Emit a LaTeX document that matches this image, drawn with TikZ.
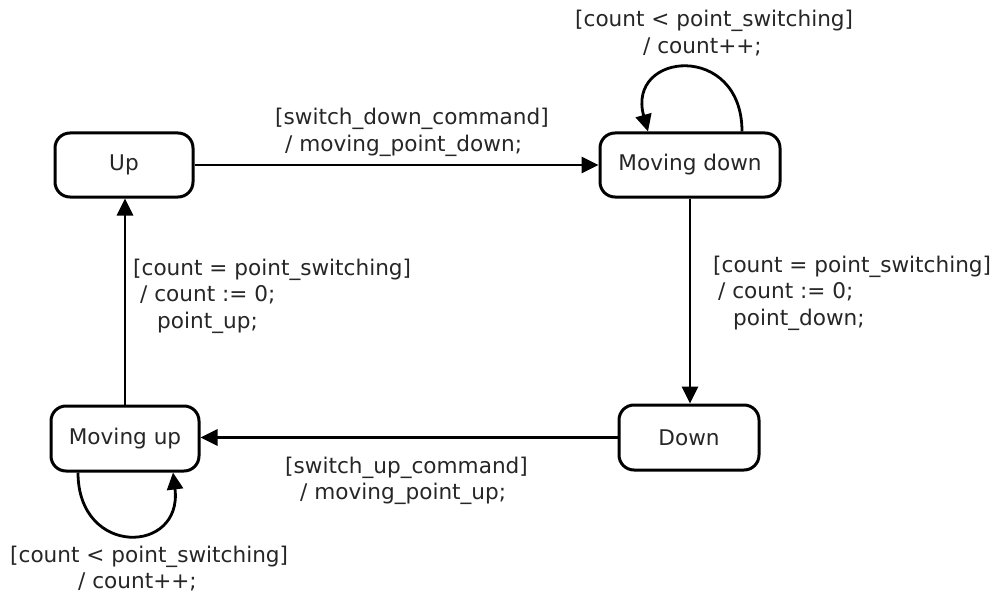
\documentclass[tikz,border=0pt]{standalone}
\usepackage{fontspec}
\setmainfont{DejaVu Sans}
\usetikzlibrary{arrows.meta}
\begin{document}
\begin{tikzpicture}[x=1pt,y=-1pt,
  state/.style={draw, line width=3pt, rounded corners=15pt, inner sep=0pt, align=center},
  arr/.style={line width=2.8pt, -{Triangle[length=17pt,width=16pt]}},
  lbl/.style={inner sep=0pt, anchor=base west},
  every node/.append style={font=\fontsize{21.6}{26.5}\selectfont, text=black!85}]
\useasboundingbox (0,0) rectangle (1000,596);
\fill[white] (0,0) rectangle (1000,596);
\node[state, minimum width=138pt, minimum height=64pt] (up) at (124,165) {Up};
\node[state, minimum width=180pt, minimum height=64pt] (md) at (690,165) {Moving down};
\node[state, minimum width=148pt, minimum height=65pt] (mu) at (125,438.5) {Moving up};
\node[state, minimum width=140pt, minimum height=65pt] (dn) at (689,437.5) {Down};

\draw[arr] (up.east) -- (md.west);
\draw[arr] (md.south) -- (md.south |- dn.north);
\draw[arr] (dn.west) -- (dn.west -| mu.east);
\draw[arr] (mu.north) -- (mu.north |- up.south);
\draw[arr] ([xshift=52pt]md.north) .. controls +(0,-90) and +(-22,-80) .. ([xshift=-42pt]md.north);
\draw[arr] ([xshift=-47pt]mu.south) .. controls +(0,85) and +(10,82) .. ([xshift=48pt]mu.south);

\node[lbl] (l1) at (575,27) {\begin{tabular}[t]{@{}l@{}}[count < point\_switching]\\\hspace*{68pt}/ count++;\end{tabular}};
\node[lbl] (l2) at (275,125) {\begin{tabular}[t]{@{}l@{}}[switch\_down\_command]\\\hspace*{10pt}/ moving\_point\_down;\end{tabular}};
\node[lbl] (l3) at (713,272) {\begin{tabular}[t]{@{}l@{}}[count = point\_switching]\\\hspace*{5pt}/ count := 0;\\\hspace*{20pt}point\_down;\end{tabular}};
\node[lbl] (l4) at (133,275) {\begin{tabular}[t]{@{}l@{}}[count = point\_switching]\\\hspace*{7pt}/ count := 0;\\\hspace*{24pt}point\_up;\end{tabular}};
\node[lbl] (l5) at (285,473) {\begin{tabular}[t]{@{}l@{}}[switch\_up\_command]\\\hspace*{15pt}/ moving\_point\_up;\end{tabular}};
\node[lbl] (l6) at (10,562) {\begin{tabular}[t]{@{}l@{}}[count < point\_switching]\\\hspace*{68pt}/ count++;\end{tabular}};
\end{tikzpicture}
\end{document}
